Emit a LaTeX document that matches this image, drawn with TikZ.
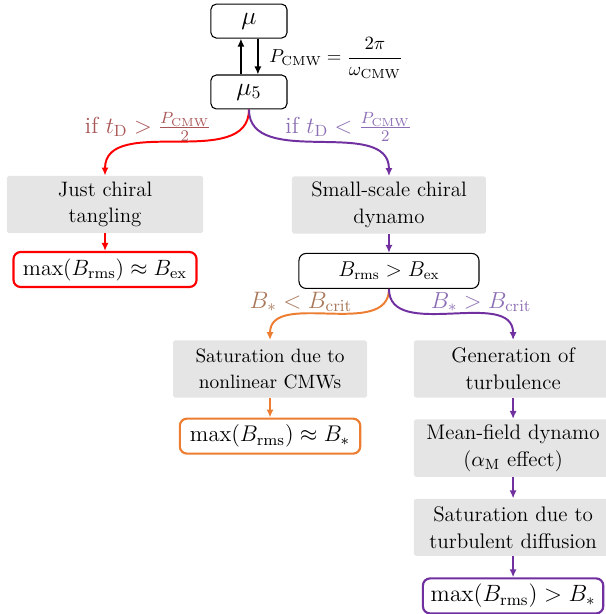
\RequirePackage{fix-cm}
\documentclass[tikz,border=0pt]{standalone}
\usepackage{amsmath}
\usepackage{tikz}
\usetikzlibrary{positioning,arrows.meta}
\definecolor{cpurple}{RGB}{112,48,160}
\definecolor{corange}{RGB}{237,125,49}
\definecolor{lblred}{RGB}{170,85,85}
\definecolor{lblpurple}{RGB}{140,110,180}
\definecolor{lblbrown}{RGB}{170,120,90}

\begin{document}
\begin{tikzpicture}[
                    chem_node/.style={draw=black, semithick, rounded corners=3pt, minimum width=42.6pt, minimum height=19pt, inner sep=1pt, font=\Large},
                    grey_node/.style={fill=gray!20, rounded corners=1pt, align=center, inner sep=3pt, minimum height=32pt, font=\fontsize{#1}{15}\selectfont},
                    grey_node/.default=11.7,
                    result_node/.style={draw=#1, rounded corners=4pt, minimum height=19.6pt, inner sep=1pt},
                    flow/.style={-{Latex[length=4.5pt,width=4pt]}, line width=1.1pt},
                    cond/.style={font=\fontsize{#1}{14}\selectfont}
                ]
                    \useasboundingbox (0,0) rectangle (338.8pt,-343.8pt);
                    % top: chemical potentials
                    \node[chem_node] (mu) at (139.4pt,-11.8pt) {$\mu$};
                    \node[chem_node] (mu5) at (139.4pt,-51.5pt) {$\mu_5$};
                    \draw[flow] ([xshift=-4.5pt]mu5.north) -- ([xshift=-4.5pt]mu.south);
                    \draw[flow, line width=0.8pt] ([xshift=5pt]mu.south) -- ([xshift=5pt]mu5.north);
                    \node[anchor=west, inner sep=0pt, font=\fontsize{10.5}{12}\selectfont] (period) at (150.6pt,-32.5pt) {$P_{\rm CMW}=\dfrac{2\pi}{\omega_{\rm CMW}}$};

                    % left branch
                    \node[grey_node, text width=103.8pt] (tangling) at (58.8pt,-114.5pt) {Just chiral\\tangling};
                    \node[result_node=red, line width=1.2pt, minimum width=102.5pt, below=9.8pt of tangling, font=\fontsize{12.4}{14}\selectfont] (maxex) {$\max(B_{\rm rms})\approx B_{\rm ex}$};
                    \draw[flow, red] (mu5.south) to[out=-90, in=90] (tangling.north);
                    \draw[flow, red] (tangling) -- (maxex);
                    \node[cond=13, text=lblred] (slow) at (82.9pt,-71.1pt) {if $t_{\rm D}>\frac{P_{\rm CMW}}{2}$};

                    % right branch
                    \node[grey_node, text width=102.6pt] (smalldyn) at (217.8pt,-114.8pt) {Small-scale chiral\\dynamo};
                    \node[result_node=black, semithick, minimum width=100.8pt, below=10.6pt of smalldyn, font=\fontsize{12}{14}\selectfont] (growth) {$B_{\rm rms}>B_{\rm ex}$};
                    \draw[flow, cpurple] (mu5.south) to[out=-90, in=90] (smalldyn.north);
                    \draw[flow, cpurple] (smalldyn) -- (growth);
                    \node[cond=13, text=lblpurple] (fast) at (195.2pt,-71.1pt) {if $t_{\rm D}<\frac{P_{\rm CMW}}{2}$};

                    % weak field: CMW saturation
                    \node[grey_node=10.8, text width=102.6pt] (satcmw) at (151.2pt,-206.6pt) {Saturation due to\\nonlinear CMWs};
                    \node[result_node=corange, line width=1.2pt, minimum width=101pt, below=11pt of satcmw, font=\fontsize{12.7}{14}\selectfont] (maxstar) {$\max(B_{\rm rms})\approx B_*$};
                    \draw[flow, corange] (growth.south) to[out=-90, in=90] (satcmw.north);
                    \draw[flow, corange] (satcmw) -- (maxstar);
                    \node[cond=13.3, text=lblbrown] (weak) at (168.5pt,-169.1pt) {$B_*<B_{\rm crit}$};

                    % strong field: turbulence
                    \node[grey_node=11.8, text width=105pt] (turb) at (287.3pt,-206.6pt) {Generation of\\turbulence};
                    \node[grey_node=11.8, text width=105pt, below=11.8pt of turb] (meanfield) {Mean-field dynamo\\($\alpha_{\rm M}$ effect)};
                    \node[grey_node=11.8, text width=105pt, below=11.8pt of meanfield] (satdiff) {Saturation due to\\turbulent diffusion};
                    \node[result_node=cpurple, line width=1.2pt, minimum width=101pt, below=11.8pt of satdiff, font=\fontsize{13.2}{14}\selectfont] (maxturb) {$\max(B_{\rm rms})>B_*$};
                    \draw[flow, cpurple] (growth.south) to[out=-90, in=90] (turb.north);
                    \draw[flow, cpurple] (turb) -- (meanfield);
                    \draw[flow, cpurple] (meanfield) -- (satdiff);
                    \draw[flow, cpurple] (satdiff) -- (maxturb);
                    \node[cond=13, text=lblpurple] (strong) at (269.4pt,-169.1pt) {$B_*>B_{\rm crit}$};
                \end{tikzpicture}
\end{document}
